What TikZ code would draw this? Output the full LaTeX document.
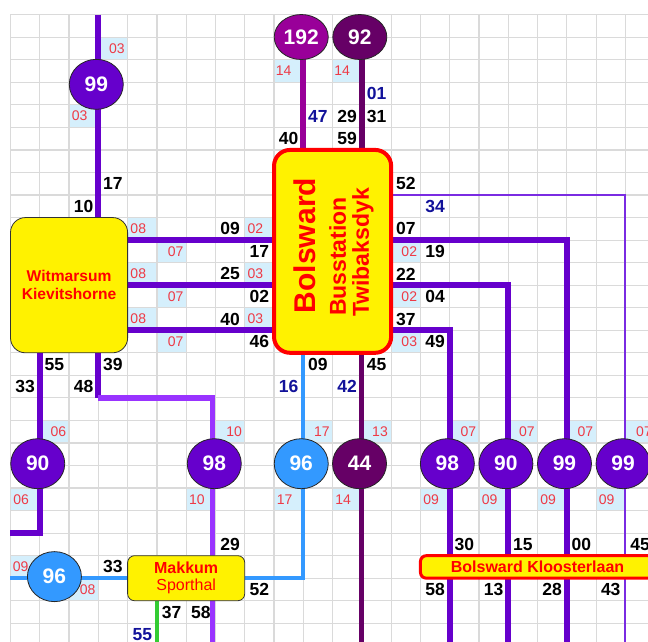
\documentclass[tikz,border=0pt]{standalone}
\usepackage{fontspec}
\setmainfont{Liberation Sans}
\usetikzlibrary{shapes.geometric}
\pgfdeclarelayer{celllayer}
\pgfdeclarelayer{gridlayer}
\pgfdeclarelayer{linelayer}
\pgfsetlayers{celllayer,gridlayer,linelayer,main}
\definecolor{pur}{HTML}{6600CC}
\definecolor{vio}{HTML}{9933FF}
\definecolor{thinpur}{HTML}{7A2BE2}
\definecolor{cmag}{HTML}{990099}
\definecolor{cdark}{HTML}{660066}
\definecolor{bluesix}{HTML}{3399FF}
\definecolor{grn}{HTML}{33CC33}
\definecolor{navy}{HTML}{12129A}
\definecolor{labred}{HTML}{EE3A46}
\definecolor{boxred}{HTML}{FF0000}
\definecolor{cellblue}{HTML}{D5EFFC}
\definecolor{gridgray}{HTML}{DADADA}
\tikzset{
  every node/.style={inner sep=0pt, outer sep=0pt},
  gridline/.style={draw=gridgray, line width=1.2pt},
  route/.style={line width=5.7pt},
  thinroute/.style={line width=2.2pt, draw=thinpur},
  busstop/.style={ellipse, draw=black!85, line width=0.8pt, minimum width=54pt, minimum height=50pt, text=white, font=\fontsize{21}{21}\selectfont\bfseries},
  ybox/.style={rectangle, fill=yellow, text=boxred, align=center},
  bnum/.style={font=\fontsize{17.5}{17.5}\selectfont\bfseries},
  nnum/.style={text=navy, font=\fontsize{17.5}{17.5}\selectfont\bfseries},
  rlab/.style={text=labred, font=\fontsize{14}{14}\selectfont},
  vtext/.style={rotate=90, text=boxred}
}
\newcommand\redcell[4][0]{%
  \begin{pgfonlayer}{celllayer}\fill[cellblue] (#2,#3) rectangle ++(1,1);\end{pgfonlayer}%
  \node[rlab, xshift=#1pt] (r-#2-#3) at (#2+0.5,#3+0.5) {#4};}
\newcommand\blackcell[3]{\node[bnum] (k-#1-#2) at (#1+0.5,#2+0.5) {#3};}
\newcommand\navycell[3]{\node[nnum] (n-#1-#2) at (#1+0.5,#2+0.5) {#3};}
\begin{document}
\begin{tikzpicture}[x=29.28pt,y=-22.54pt]
\useasboundingbox (-0.3586,-0.6522) rectangle (21.7725,27.8305);
\begin{pgfonlayer}{gridlayer}
\foreach \c in {0,...,21} \draw[gridline] (\c,0) -- (\c,27.8305);
\foreach \r in {0,...,27} \draw[gridline] (0,\r) -- (21.7725,\r);
\end{pgfonlayer}

% boxes
\node[ybox, draw=black!80, line width=0.8pt, rounded corners=15pt, minimum width=117.12pt, minimum height=135.24pt, font=\fontsize{15.6}{18}\selectfont\bfseries] (wit) at (2,12) {Witmarsum\\Kievitshorne};
\node[ybox, draw=boxred, line width=4pt, rounded corners=16pt, minimum width=117.12pt, minimum height=202.86pt] (bols) at (11,10.5) {};
\node[vtext, font=\fontsize{30}{30}\selectfont\bfseries] (bt1) at (10.06,10.24) {Bolsward};
\node[vtext, font=\fontsize{23}{23}\selectfont\bfseries] (bt2) at (11.17,10.73) {Busstation};
\node[vtext, font=\fontsize{23}{23}\selectfont\bfseries] (bt3) at (12.04,10.55) {Twibaksdyk};
\node[ybox, draw=black!80, line width=0.8pt, rounded corners=7pt, minimum width=117.12pt, minimum height=45.08pt, font=\fontsize{16}{17}\selectfont] (mak) at (6,25) {\textbf{Makkum}\\Sporthal};
\node[ybox, draw=boxred, line width=3pt, rounded corners=6pt, minimum width=234.24pt, minimum height=22.54pt, font=\fontsize{16}{16}\selectfont\bfseries] (klo) at (18,24.5) {Bolsward Kloosterlaan};

% stops
\node[busstop, fill=pur] (s99a) at (2.93,3.09) {99};
\node[busstop, fill=cmag, minimum height=45pt] (s192) at (9.93,0.99) {192};
\node[busstop, fill=cdark, minimum height=45pt] (s92) at (11.93,0.99) {92};
\node[busstop, fill=pur] (s90a) at (0.93,19.92) {90};
\node[busstop, fill=pur] (s98a) at (6.96,19.92) {98};
\node[busstop, fill=bluesix] (s96a) at (9.93,19.92) {96};
\node[busstop, fill=cdark] (s44) at (11.92,19.92) {44};
\node[busstop, fill=pur] (s98b) at (14.92,19.92) {98};
\node[busstop, fill=pur] (s90b) at (16.92,19.92) {90};
\node[busstop, fill=pur] (s99b) at (18.92,19.92) {99};
\node[busstop, fill=pur] (s99c) at (20.92,19.92) {99};
\node[busstop, fill=bluesix] (s96b) at (1.5,24.93) {96};

% coordinates for free ends
\coordinate (t99) at (3,0);
\coordinate (t192) at (10,1);
\coordinate (t92) at (12,1);
\coordinate (b21) at (21,27.9);
\coordinate (b19) at (19,27.9);
\coordinate (b17) at (17,27.9);
\coordinate (b15) at (15,27.9);
\coordinate (b12) at (12,27.9);
\coordinate (b7) at (6.9,27.9);
\coordinate (b5) at (5,27.9);
\coordinate (k17) at (3,17);
\coordinate (l23) at (0,23);
\coordinate (l25) at (0,25);

\begin{pgfonlayer}{linelayer}
\draw[route, draw=pur] (t99) -- (t99 |- wit.north);
\draw[route, draw=cmag] (t192) -- (t192 |- bols.north);
\draw[route, draw=cdark] (t92) -- (t92 |- bols.north);
\foreach \r in {10,12,14} \draw[route, draw=pur] (wit.east |- 0,\r) -- (bols.west |- 0,\r);
\draw[thinroute] (bols.east |- 0,8) -| (b21);
\draw[route, draw=pur] (bols.east |- 0,10) -| (b19);
\draw[route, draw=pur] (bols.east |- 0,12) -| (b17);
\draw[route, draw=pur] (bols.east |- 0,14) -| (b15);
\draw[route, line width=4.3pt, draw=bluesix] (bols.south -| 10,0) |- (mak.east |- 0,25);
\draw[route, line width=5pt, draw=cdark] (bols.south -| 12,0) -- (b12);
\draw[route, draw=pur] (wit.south -| 1,0) |- (l23);
\draw[route, draw=pur] (wit.south -| 3,0) -- (k17);
\draw[route, draw=vio] (k17) -| (b7);
\draw[route, line width=4.3pt, draw=bluesix] (l25) -- (mak.west |- l25);
\draw[line width=3.6pt, draw=grn] (mak.south -| 5,0) -- (b5);
\end{pgfonlayer}

% red labels on blue cells
\redcell[4]{3}{1}{03}\redcell[-4]{2}{4}{03}
\redcell[-5]{9}{2}{14}\redcell[-5]{11}{2}{14}
\redcell[-4]{4}{9}{08}\redcell[4]{5}{10}{07}\redcell[-4]{8}{9}{02}
\redcell[-4]{4}{11}{08}\redcell[4]{5}{12}{07}\redcell[-4]{8}{11}{03}
\redcell[-4]{4}{13}{08}\redcell[4]{5}{14}{07}\redcell[-4]{8}{13}{03}
\redcell[3.5]{13}{10}{02}\redcell[3.5]{13}{12}{02}\redcell[3.5]{13}{14}{03}
\redcell[4]{1}{18}{06}\redcell[-4]{0}{21}{06}
\redcell[4]{7}{18}{10}\redcell[-4]{6}{21}{10}
\redcell[4]{10}{18}{17}\redcell[-4]{9}{21}{17}
\redcell[3.5]{12}{18}{13}\redcell[-4]{11}{21}{14}
\redcell[4]{15}{18}{07}\redcell[-4]{14}{21}{09}
\redcell[4]{17}{18}{07}\redcell[-4]{16}{21}{09}
\redcell[4]{19}{18}{07}\redcell[-4]{18}{21}{09}
\redcell[4]{21}{18}{07}\redcell[-4]{20}{21}{09}
\redcell[-4.5]{0}{24}{09}\redcell[4]{2}{25}{08}

% black numbers
\blackcell{3}{7}{17}\blackcell{2}{8}{10}
\blackcell{9}{5}{40}\blackcell{11}{4}{29}\blackcell{12}{4}{31}\blackcell{11}{5}{59}
\blackcell{13}{7}{52}
\blackcell{7}{9}{09}\blackcell{8}{10}{17}
\blackcell{7}{11}{25}\blackcell{8}{12}{02}
\blackcell{7}{13}{40}\blackcell{8}{14}{46}
\blackcell{13}{9}{07}\blackcell{14}{10}{19}
\blackcell{13}{11}{22}\blackcell{14}{12}{04}
\blackcell{13}{13}{37}\blackcell{14}{14}{49}
\blackcell{10}{15}{09}\blackcell{12}{15}{45}
\blackcell{1}{15}{55}\blackcell{0}{16}{33}\blackcell{3}{15}{39}\blackcell{2}{16}{48}
\blackcell{7}{23}{29}\blackcell{3}{24}{33}\blackcell{8}{25}{52}\blackcell{5}{26}{37}\blackcell{6}{26}{58}
\blackcell{15}{23}{30}\blackcell{17}{23}{15}\blackcell{19}{23}{00}\blackcell{21}{23}{45}
\blackcell{14}{25}{58}\blackcell{16}{25}{13}\blackcell{18}{25}{28}\blackcell{20}{25}{43}

% navy numbers
\navycell{10}{4}{47}\navycell{12}{3}{01}\navycell{14}{8}{34}
\navycell{9}{16}{16}\navycell{11}{16}{42}\navycell{4}{27}{55}
\end{tikzpicture}
\end{document}
